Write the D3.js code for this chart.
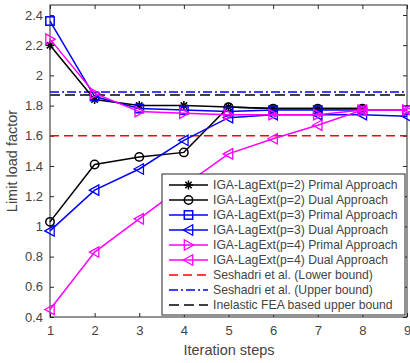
<!DOCTYPE html>
<html lang="en">
<head>
  <meta charset="UTF-8">
  <title>Limit load factor vs iteration steps</title>
  <script src="https://d3js.org/d3.v7.min.js"></script>
  <style>
    body { margin: 0; background: #fff; }
    text { font-family: Arial, "Liberation Sans", sans-serif; }
  </style>
</head>
<body>
  <div id="viz"></div>

  <script>
    const steps = [1, 2, 3, 4, 5, 6, 7, 8, 9];
    const yTicks = [0.4, 0.6, 0.8, 1, 1.2, 1.4, 1.6, 1.8, 2, 2.2, 2.4];

    const p2Primal = [2.20, 1.84, 1.80, 1.80, 1.79, 1.78, 1.78, 1.78];
    const p2Dual   = [1.03, 1.41, 1.46, 1.49, 1.79, 1.78, 1.78, 1.78];
    const p3Primal = [2.36, 1.86, 1.78, 1.77, 1.76, 1.77, 1.77, 1.77, 1.77];
    const p3Dual   = [0.97, 1.24, 1.38, 1.57, 1.72, 1.74, 1.74, 1.74, 1.73];
    const p4Primal = [2.24, 1.88, 1.76, 1.75, 1.74, 1.74, 1.74, 1.77, 1.77];
    const p4Dual   = [0.45, 0.83, 1.05, 1.27, 1.48, 1.58, 1.67, 1.77, 1.77];

    const lowerBound = 1.6;
    const upperBound = 1.89;
    const feaBound = 1.87;

    const seriesNames = [
      'IGA-LagExt(p=2) Primal Approach',
      'IGA-LagExt(p=2) Dual Approach',
      'IGA-LagExt(p=3) Primal Approach',
      'IGA-LagExt(p=3) Dual Approach',
      'IGA-LagExt(p=4) Primal Approach',
      'IGA-LagExt(p=4) Dual Approach'
    ];
    const refNames = [
      'Seshadri et al. (Lower bound)',
      'Seshadri et al. (Upper bound)',
      'Inelastic FEA based upper bound'
    ];

    const series = [
      { name: seriesNames[0], values: p2Primal, color: '#000', marker: 'star' },
      { name: seriesNames[1], values: p2Dual, color: '#000', marker: 'circle' },
      { name: seriesNames[2], values: p3Primal, color: '#0000ff', marker: 'square' },
      { name: seriesNames[3], values: p3Dual, color: '#0000ff', marker: 'left' },
      { name: seriesNames[4], values: p4Primal, color: '#ff00ff', marker: 'right' },
      { name: seriesNames[5], values: p4Dual, color: '#ff00ff', marker: 'left' }
    ];
    const refs = [
      { name: refNames[0], value: lowerBound, color: '#ff0000', dash: '9,5', width: 1.5 },
      { name: refNames[1], value: upperBound, color: '#0000ff', dash: '9,3,2,3', width: 1.5 },
      { name: refNames[2], value: feaBound, color: '#404040', dash: '10,5', width: 2.2 }
    ];

    const W = 410, H = 363;
    const mLeft = 50, mRight = 407, mTop = 5, mBottom = 317;

    const svg = d3.select('#viz').append('svg')
      .attr('width', W)
      .attr('height', H);

    const x = d3.scaleLinear().domain([1, 9]).range([mLeft, mRight]);
    const y = d3.scaleLinear().domain([0.4, 2.466]).range([mBottom, mTop]);

    const axisColor = '#262626';
    const tickColor = '#444';

    // axes with ticks inside
    svg.append('g')
      .attr('transform', `translate(0,${mBottom})`)
      .call(d3.axisBottom(x).tickValues(steps).tickSize(-4).tickPadding(9).tickFormat(d3.format('d')));
    svg.append('g')
      .attr('transform', `translate(${mLeft},0)`)
      .call(d3.axisLeft(y).tickValues(yTicks).tickSize(-4).tickPadding(7).tickFormat(d => String(d)));
    // mirrored ticks on top/right
    svg.append('g')
      .attr('transform', `translate(0,${mTop})`)
      .call(d3.axisTop(x).tickValues(steps).tickSize(-4).tickFormat(''));
    svg.append('g')
      .attr('transform', `translate(${mRight},0)`)
      .call(d3.axisRight(y).tickValues(yTicks).tickSize(-4).tickFormat(''));

    svg.selectAll('.domain').remove();
    svg.selectAll('.tick line').attr('stroke', axisColor);
    svg.selectAll('.tick text').attr('fill', tickColor).style('font-size', '13px');

    svg.append('rect')
      .attr('x', mLeft).attr('y', mTop)
      .attr('width', mRight - mLeft).attr('height', mBottom - mTop)
      .attr('fill', 'none').attr('stroke', axisColor).attr('stroke-width', 1);

    // reference lines
    svg.append('g').selectAll('line')
      .data(refs)
      .join('line')
        .attr('x1', mLeft).attr('x2', mRight)
        .attr('y1', d => y(d.value)).attr('y2', d => y(d.value))
        .attr('stroke', d => d.color)
        .attr('stroke-width', d => d.width)
        .attr('stroke-dasharray', d => d.dash);

    function drawMarker(g, type, color) {
      const s = 4.2;
      if (type === 'circle') {
        g.append('circle').attr('r', s).attr('fill', 'none').attr('stroke', color).attr('stroke-width', 1.5);
      } else if (type === 'square') {
        g.append('rect').attr('x', -s).attr('y', -s).attr('width', 2 * s).attr('height', 2 * s)
          .attr('fill', 'none').attr('stroke', color).attr('stroke-width', 1.5);
      } else if (type === 'left') {
        g.append('path').attr('d', `M${-s - 1},0L${s},${-s - 1}L${s},${s + 1}Z`)
          .attr('fill', 'none').attr('stroke', color).attr('stroke-width', 1.3);
      } else if (type === 'right') {
        g.append('path').attr('d', `M${s + 1},0L${-s},${-s - 1}L${-s},${s + 1}Z`)
          .attr('fill', 'none').attr('stroke', color).attr('stroke-width', 1.3);
      } else if (type === 'star') {
        const r = 4.5;
        const d = [0, 45, 90, 135].map(a => {
          const t = a * Math.PI / 180;
          return `M${-r * Math.cos(t)},${-r * Math.sin(t)}L${r * Math.cos(t)},${r * Math.sin(t)}`;
        }).join('');
        g.append('path').attr('d', d).attr('stroke', color).attr('stroke-width', 1.5);
      }
    }

    const line = d3.line()
      .x((d, i) => x(steps[i]))
      .y(d => y(d));

    series.forEach(s => {
      svg.append('path')
        .datum(s.values)
        .attr('d', line)
        .attr('fill', 'none')
        .attr('stroke', s.color)
        .attr('stroke-width', 1.5);
      s.values.forEach((v, i) => {
        const g = svg.append('g').attr('transform', `translate(${x(steps[i])},${y(v)})`);
        drawMarker(g, s.marker, s.color);
      });
    });

    // legend
    const lg = { x: 162, y: 174, w: 243, h: 141 };
    const legend = svg.append('g');
    legend.append('rect')
      .attr('x', lg.x).attr('y', lg.y).attr('width', lg.w).attr('height', lg.h)
      .attr('fill', '#fff').attr('stroke', axisColor).attr('stroke-width', 1);

    const rowH = 15;
    const row0 = lg.y + 11;
    series.forEach((s, i) => {
      const cy = row0 + i * rowH;
      legend.append('line')
        .attr('x1', lg.x + 7).attr('x2', lg.x + 46)
        .attr('y1', cy).attr('y2', cy)
        .attr('stroke', s.color).attr('stroke-width', 1.5);
      const g = legend.append('g').attr('transform', `translate(${lg.x + 26.5},${cy})`);
      drawMarker(g, s.marker, s.color);
      legend.append('text')
        .attr('x', lg.x + 51).attr('y', cy).attr('dy', '0.35em')
        .attr('fill', tickColor).style('font-size', '12.2px')
        .text(s.name);
    });
    refs.forEach((r, j) => {
      const cy = row0 + (series.length + j) * rowH;
      legend.append('line')
        .attr('x1', lg.x + 7).attr('x2', lg.x + 46)
        .attr('y1', cy).attr('y2', cy)
        .attr('stroke', r.color).attr('stroke-width', r.width)
        .attr('stroke-dasharray', r.dash);
      legend.append('text')
        .attr('x', lg.x + 51).attr('y', cy).attr('dy', '0.35em')
        .attr('fill', tickColor).style('font-size', '12.2px')
        .text(r.name);
    });

    // axis titles
    svg.append('text')
      .attr('x', 229).attr('y', 355)
      .attr('text-anchor', 'middle')
      .attr('fill', tickColor).style('font-size', '14.5px')
      .text('Iteration steps');
    svg.append('text')
      .attr('transform', `translate(17,${(mTop + mBottom) / 2}) rotate(-90)`)
      .attr('text-anchor', 'middle')
      .attr('fill', tickColor).style('font-size', '14.5px')
      .text('Limit load factor');
  </script>
</body>
</html>
